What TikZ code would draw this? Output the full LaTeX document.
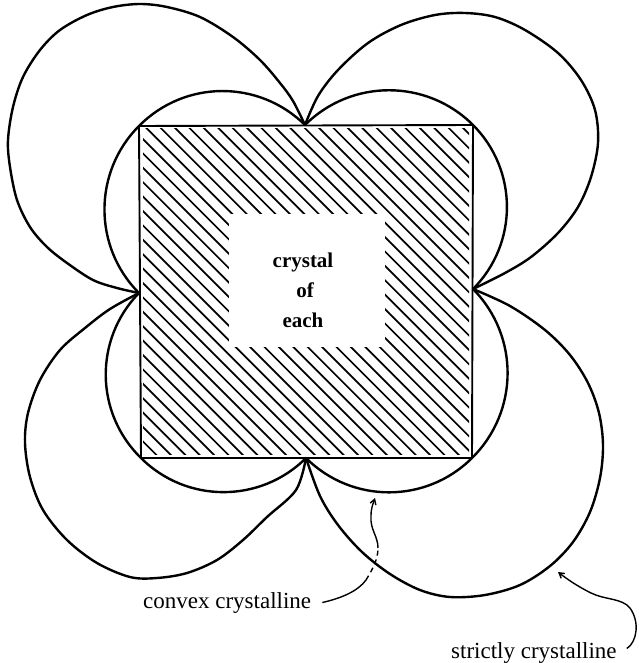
\documentclass[tikz,border=0pt]{standalone}
\usepackage{fontspec}
\setmainfont{Liberation Serif}
\usetikzlibrary{arrows.meta}
\begin{document}
\begin{tikzpicture}[x=1pt,y=-1pt,
  curve/.style={line width=2.4pt, line join=round, line cap=round},
  hatchline/.style={line width=1.7pt},
  edge/.style={line width=1.9pt},
  thinline/.style={line width=1.4pt},
  pointer/.style={line width=1.4pt, -{Straight Barb[length=5pt,width=6pt]}},
  lab/.style={font=\fontsize{23}{27}\selectfont, inner sep=0pt},
  midtext/.style={font=\fontsize{21}{26}\selectfont\bfseries, inner sep=0pt}]
\useasboundingbox (0,0) rectangle (638,663);
% square corners and cusps
\coordinate (TL) at (139,126);
\coordinate (TR) at (473,125);
\coordinate (BR) at (472,458);
\coordinate (BL) at (141,458);
\coordinate (T) at (305,125);
\coordinate (R) at (473,289);
\coordinate (B) at (306,458);
\coordinate (L) at (139,293);
% hatching
\begin{scope}
  \clip (143,129) rectangle (469,454);
  \foreach \k in {-23,...,23} {
    \draw[hatchline] ({18.3+14.4*\k-400},-400) -- ({18.3+14.4*\k+700},700);
  }
\end{scope}
\fill[white] (229,214) rectangle (385,347);
% square
\draw[edge] (TL) -- (TR) -- (BR) -- (BL) -- cycle;
% convex crystalline (inner curve)
\draw[curve] (T) to[bend left=45] (TR) to[bend left=45] (R) to[bend left=45] (BR)
  to[bend left=45] (B) to[bend left=45] (BL) to[bend left=45] (L)
  to[bend left=45] (TL) to[bend left=45] (T);
% strictly crystalline (outer lobes)
\draw[curve] plot[smooth, tension=0.55] coordinates {(139,293) (117,288) (93,280) (67,263) (47,247) (30,227) (17,200) (10,167) (8,140) (13,107) (23,77) (40,50) (60,30) (87,15) (113,7) (140,4) (167,7) (200,17) (233,37) (260,60) (280,83) (293,101) (305,125)};
\draw[curve] plot[smooth, tension=0.55] coordinates {(305,125) (318,96) (338,70) (368,43) (401,25) (435,15) (465,13) (495,17) (525,30) (558,53) (581,80) (595,110) (598,143) (591,177) (578,207) (558,233) (531,257) (505,273) (473,289)};
\draw[curve] plot[smooth, tension=0.55] coordinates {(473,289) (510,306) (545,330) (570,355) (588,383) (599,413) (603,445) (600,478) (590,512) (573,542) (550,566) (520,585) (485,595) (450,597) (420,590) (390,574) (362,552) (338,525) (320,496) (306,458)};
\draw[curve] plot[smooth, tension=0.55] coordinates {(306,458) (296,490) (267,517) (243,540) (217,560) (187,573) (157,578) (130,577) (97,563) (67,540) (43,510) (30,477) (25,443) (28,413) (40,380) (60,350) (85,328) (110,309) (139,293)};
% texts
\node[midtext, anchor=base] (c1) at (303,267) {crystal};
\node[midtext, anchor=base] (c2) at (305,297) {of};
\node[midtext, anchor=base] (c3) at (303,327) {each};
\node[lab, anchor=base west] (conv) at (143,608) {convex crystalline};
\node[lab, anchor=base west] (strict) at (451,658) {strictly crystalline};
% arrow to convex crystalline
\coordinate (a1) at (375,498);
\coordinate (a1m1) at (366,580);
\coordinate (a1m2) at (378,548);
\draw[thinline] ([xshift=11pt]conv.east) .. controls (342,598) and (358,591) .. (a1m1);
\draw[thinline, dash pattern=on 5pt off 4pt] (a1m1) .. controls (372,570) and (378,560) .. (a1m2);
\draw[pointer] (a1m2) .. controls (378,536) and (370,530) .. (371,516) .. controls (371,508) and (373,504) .. (a1);
% arrow to strictly crystalline
\coordinate (a2) at (558,572);
\draw[pointer] ([xshift=10pt,yshift=4pt]strict.east) .. controls (637,642) and (640,622) .. (630,608)
  .. controls (622,598) and (605,600) .. (591,593) .. controls (577,586) and (567,579) .. (a2);
\end{tikzpicture}
\end{document}
